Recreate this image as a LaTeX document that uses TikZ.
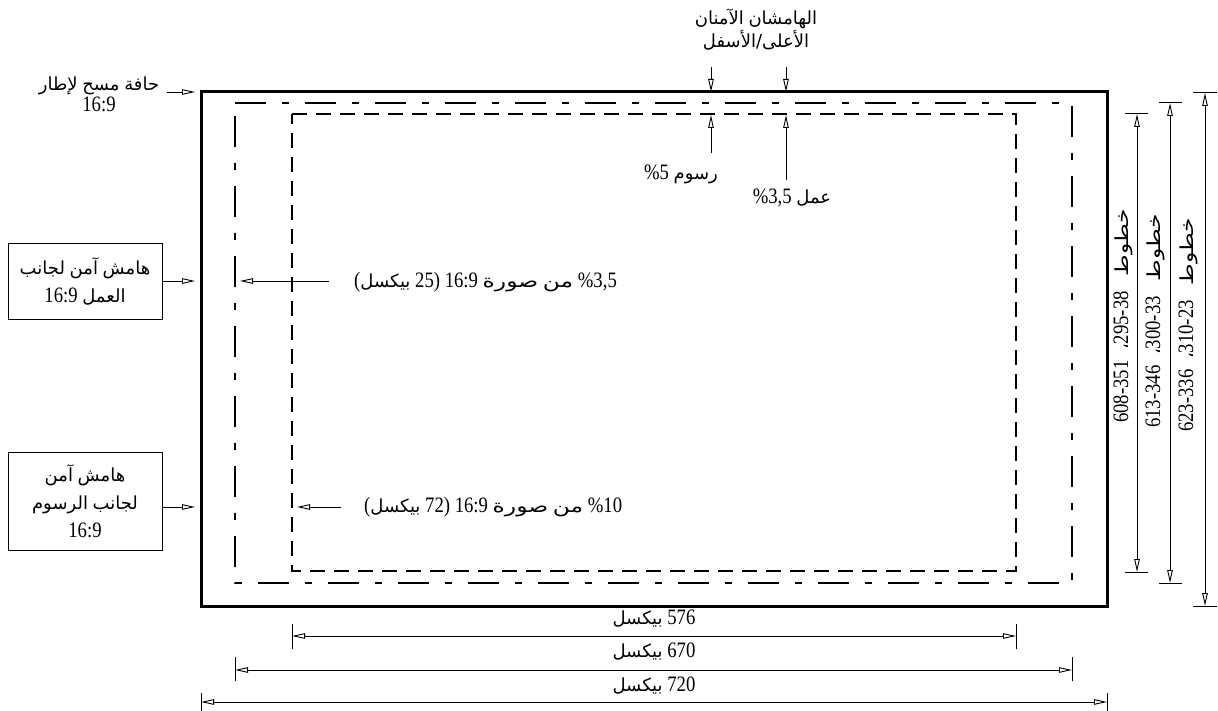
\documentclass[tikz,border=0pt]{standalone}
\usepackage{fontspec}
\setmainfont{Liberation Serif}[FakeStretch=0.85]
\newfontfamily\arfont[Script=Arabic]{DejaVu Sans}
\newfontfamily\arfontw[Script=Arabic,FakeStretch=1.3]{DejaVu Sans}
\usetikzlibrary{arrows.meta}
\newcommand\arw[1]{{\arfont\fontsize{18}{22}\selectfont #1}}
\newcommand\arww[1]{{\arfontw\fontsize{18}{22}\selectfont #1}}
\tikzset{
  tip/.tip={Triangle[open,length=13pt,width=5.5pt]},
  arr/.style={-tip, line width=0.9pt},
  darr/.style={tip-tip, line width=0.9pt},
  dimtick/.style={line width=1pt},
  lbl/.style={inner sep=0pt},
  boxnode/.style={draw, line width=0.9pt, minimum width=154pt, align=center, inner sep=0pt},
  outerframe/.style={line width=3pt},
  actionframe/.style={line width=2.4pt, dash pattern=on 31pt off 16pt on 7pt off 16pt},
  titleframe/.style={line width=2.4pt, dash pattern=on 15pt off 9pt}
}
\begin{document}
\begin{tikzpicture}[x=1pt,y=-1pt,font=\fontsize{22}{28}\selectfont]
\useasboundingbox (0,0) rectangle (1218,711);
% frames
\coordinate (o1) at (201,92);  \coordinate (o2) at (1107,606);
\coordinate (a1) at (235,103); \coordinate (a2) at (1072,583);
\coordinate (t1) at (292,114); \coordinate (t2) at (1016,571);
\draw[outerframe] (o1) -- (o1 -| o2) -- (o2) -- (o2 -| o1) -- cycle;
\draw[actionframe] (a1) -- (a1 -| a2) -- (a2) -- (a2 -| a1) -- cycle;
\draw[titleframe] (t1) -- (t1 -| t2) -- (t2) -- (t2 -| t1) -- cycle;

% top-left label
\node[lbl, align=center] (tl) at (99,94) {\arw{لإطار} \arw{مسح} \arw{حافة}\\[-7pt]16:9};
\coordinate (tlA) at (167,92); \coordinate (tlB) at (195,92);
\draw[arr] (tlA) -- (tlB);

% top labels
\node[lbl, align=center] (top) at (756,30) {\arw{الآمنان} \arw{الهامشان}\\[-5pt]\arw{الأعلى/الأسفل}};
\coordinate (d1s) at (711,67); \coordinate (d1e) at (711,92);
\coordinate (d2s) at (786,67); \coordinate (d2e) at (786,92);
\draw[arr] (d1s) -- (d1e);
\draw[arr] (d2s) -- (d2e);
\coordinate (u1s) at (711,153); \coordinate (u1e) at (711,115);
\coordinate (u2s) at (786,180); \coordinate (u2e) at (786,115);
\draw[arr] (u1s) -- (u1e);
\draw[arr] (u2s) -- (u2e);
\node[lbl] (ras) at (681,174) {\%5 \arw{رسوم}};
\node[lbl] (aml) at (792,198) {\%3,5 \arw{عمل}};

% left boxes
\node[boxnode, minimum height=76pt] (b1) at (85,281) {\arw{لجانب} \arw{آمن} \arw{هامش}\\16:9 \arw{العمل}};
\coordinate (b1e) at (195,281);
\draw[arr] (b1.east) -- (b1e);
\node[boxnode, minimum height=98pt] (b2) at (85,501) {\arw{آمن} \arw{هامش}\\\arw{الرسوم} \arw{لجانب}\\16:9};
\coordinate (b2e) at (195,507);
\draw[arr] (b2.east |- b2e) -- (b2e);

% middle labels
\node[lbl, anchor=west] (la) at (354,282) {(\arw{بيكسل} 25) 16:9 \arww{صورة} \arww{من} \%3,5};
\coordinate (laS) at (329,281); \coordinate (laE) at (240,281);
\draw[arr] (laS) -- (laE);
\node[lbl, anchor=west] (lb) at (364,507) {(\arw{بيكسل} 72) 16:9 \arww{صورة} \arww{من} \%10};
\coordinate (lbS) at (341,507); \coordinate (lbE) at (297,507);
\draw[arr] (lbS) -- (lbE);

% right vertical dimensions
\coordinate (r1t) at (1137,114); \coordinate (r1b) at (1137,572);
\coordinate (r2t) at (1170,103); \coordinate (r2b) at (1170,583);
\coordinate (r3t) at (1205,93);  \coordinate (r3b) at (1205,606);
\draw[darr] (r1t) -- (r1b);
\draw[darr] (r2t) -- (r2b);
\draw[darr] (r3t) -- (r3b);
\draw[dimtick] ([xshift=-12pt]r1t) -- ([xshift=11pt]r1t);
\draw[dimtick] ([xshift=-12pt]r1b) -- ([xshift=11pt]r1b);
\draw[dimtick] ([xshift=-11pt]r2t) -- ([xshift=12pt]r2t);
\draw[dimtick] ([xshift=-11pt]r2b) -- ([xshift=12pt]r2b);
\draw[dimtick] ([xshift=-12pt]r3t) -- ([xshift=12pt]r3t);
\draw[dimtick] ([xshift=-12pt]r3b) -- ([xshift=12pt]r3b);
\node[lbl, rotate=90] (rt1) at (1123,316) {608-351\hspace{6pt} \arw{،}295-38\hspace{10pt} \arww{خطوط}};
\node[lbl, rotate=90] (rt2) at (1155,321) {613-346\hspace{6pt} \arw{،}300-33\hspace{10pt} \arww{خطوط}};
\node[lbl, rotate=90] (rt3) at (1188,325) {623-336\hspace{6pt} \arw{،}310-23\hspace{10pt} \arww{خطوط}};

% bottom dimensions
\coordinate (h1l) at (292,636); \coordinate (h1r) at (1016,636);
\coordinate (h2l) at (235,670); \coordinate (h2r) at (1072,670);
\coordinate (h3l) at (201,702); \coordinate (h3r) at (1107,702);
\draw[darr] (h1l) -- (h1r);
\draw[darr] (h2l) -- (h2r);
\draw[darr] (h3l) -- (h3r);
\draw[dimtick] ([yshift=-13pt]h1l) -- ([yshift=12pt]h1l);
\draw[dimtick] ([yshift=-13pt]h1r) -- ([yshift=12pt]h1r);
\draw[dimtick] ([yshift=-11pt]h2l) -- ([yshift=13pt]h2l);
\draw[dimtick] ([yshift=-11pt]h2r) -- ([yshift=13pt]h2r);
\draw[dimtick] ([yshift=-14pt]h3l) -- ([yshift=9pt]h3l);
\draw[dimtick] ([yshift=-14pt]h3r) -- ([yshift=9pt]h3r);
\node[lbl] (w1) at (654,619) {\arw{بيكسل} 576};
\node[lbl] (w2) at (654,652) {\arw{بيكسل} 670};
\node[lbl] (w3) at (654,686) {\arw{بيكسل} 720};
\end{tikzpicture}
\end{document}
